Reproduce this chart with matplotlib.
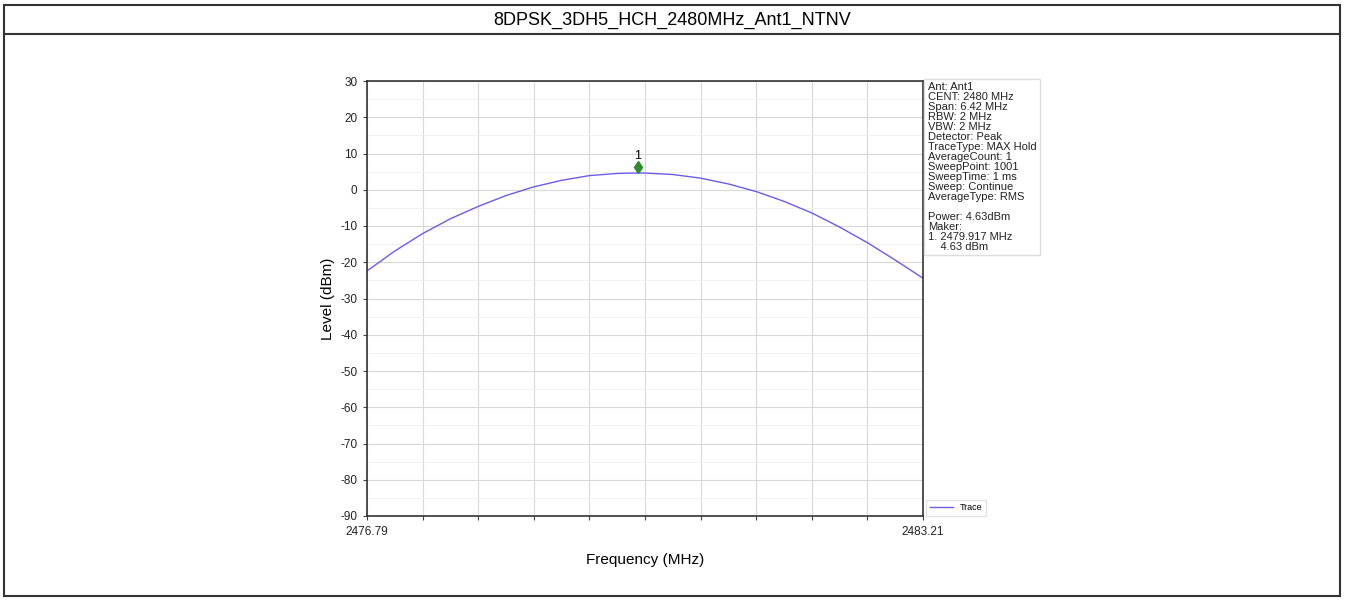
import matplotlib
matplotlib.use("Agg")
import matplotlib.pyplot as plt
from matplotlib.patches import Rectangle

plt.rcParams['font.family'] = ['Liberation Sans', 'DejaVu Sans']
plt.rcParams['axes.unicode_minus'] = False

title = "8DPSK_3DH5_HCH_2480MHz_Ant1_NTNV"

# trace (MHz, dBm)
freq = [2476.79, 2477.111, 2477.432, 2477.753, 2478.074, 2478.395, 2478.716,
        2479.037, 2479.358, 2479.679, 2479.917, 2480.0, 2480.321, 2480.642,
        2480.963, 2481.284, 2481.605, 2481.926, 2482.247, 2482.568,
        2482.889, 2483.21]
level = [-22.4, -16.9, -12.1, -8.0, -4.6, -1.6, 0.8, 2.6, 3.9, 4.5, 4.63,
         4.6, 4.2, 3.2, 1.6, -0.5, -3.2, -6.4, -10.3, -14.6, -19.4, -24.4]

peak_freq = 2479.917
peak_level = 4.63

info = ["Ant: Ant1", "CENT: 2480 MHz", "Span: 6.42 MHz", "RBW: 2 MHz",
        "VBW: 2 MHz", "Detector: Peak", "TraceType: MAX Hold",
        "AverageCount: 1", "SweepPoint: 1001", "SweepTime: 1 ms",
        "Sweep: Continue", "AverageType: RMS", "", "Power: 4.63dBm",
        "Maker:", "1. 2479.917 MHz", "    4.63 dBm"]

fig = plt.figure(figsize=(13.45, 6.01), dpi=100)

# outer frame and title row
fig.patches.append(Rectangle((4 / 1345, 5 / 601), 1336 / 1345, 591 / 601,
                             transform=fig.transFigure, fill=False,
                             edgecolor='#333333', linewidth=1.5))
fig.add_artist(plt.Line2D([4 / 1345, 1340 / 1345], [1 - 34 / 601, 1 - 34 / 601],
                          transform=fig.transFigure, color='#333333', linewidth=1.5))
fig.text(0.5, 1 - 20 / 601, title, ha='center', va='center', fontsize=13)

ax = fig.add_axes([367 / 1345, 1 - 516 / 601, 556 / 1345, 435 / 601])
ax.plot(freq, level, color='#6a5cf0', linewidth=1, label='Trace')
ax.plot(peak_freq, peak_level + 1.6, marker='d', color='#2e8b2e', markersize=6)
ax.text(peak_freq, peak_level + 3.0, "1", ha='center', va='bottom', fontsize=9)

ax.set_xlim(freq[0], freq[-1])
ax.set_ylim(-90, 30)
ax.set_yticks(range(-90, 31, 10))
span = freq[-1] - freq[0]
ax.set_xticks([freq[0] + span * i / 10 for i in range(11)])
ax.set_xticklabels(["2476.79"] + [""] * 9 + ["2483.21"])
ax.set_yticks(range(-85, 30, 10), minor=True)
ax.grid(True, which='major', color='#d8d8d8', linewidth=0.8)
ax.grid(True, which='minor', axis='y', color='#efefef', linewidth=0.6)
ax.tick_params(labelsize=8.5, length=3, color='#444444', labelcolor='#222222', pad=4)
ax.tick_params(which='minor', length=0)
for s in ax.spines.values():
    s.set_color('#333333')
    s.set_linewidth(1.2)
ax.set_xlabel("Frequency (MHz)", fontsize=11, labelpad=11)
ax.set_ylabel("Level (dBm)", fontsize=11)

ax.text(1.0085, 0.998, "\n".join(info), transform=ax.transAxes, ha='left', va='top',
        fontsize=8, linespacing=1.0, color='#222222',
        bbox=dict(boxstyle='square,pad=0.3', facecolor='white', edgecolor='#dddddd'))

ax.legend(loc='lower left', bbox_to_anchor=(1.006, 0.0), borderaxespad=0,
          fontsize=6.5, frameon=True, edgecolor='#dddddd', fancybox=False,
          handlelength=2.5)

fig.savefig("out.png", dpi=100)
